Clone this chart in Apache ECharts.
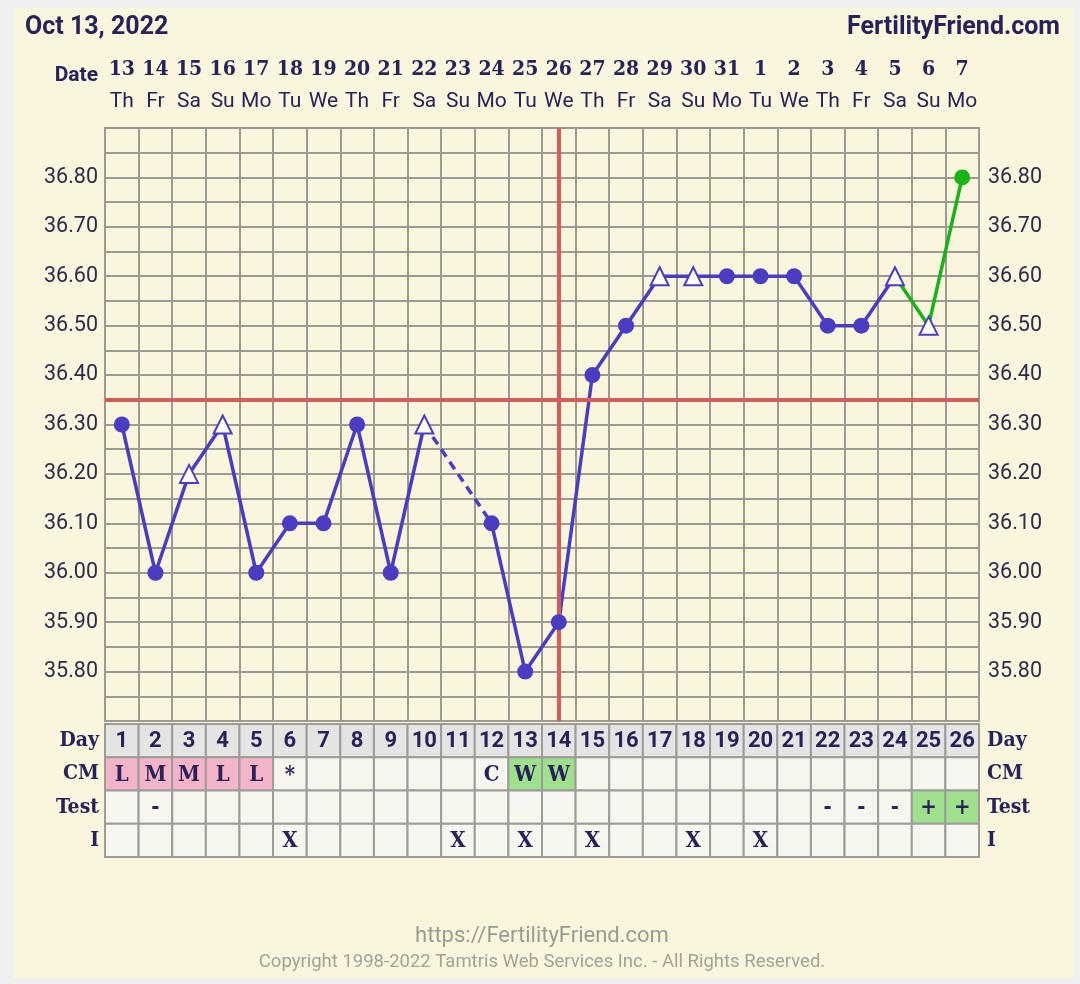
<!DOCTYPE html>
<html>
<head>
<meta charset="utf-8">
<script src="https://cdn.jsdelivr.net/npm/echarts@6/dist/echarts.min.js"></script>
<style>
html,body{margin:0;padding:0;background:#f0f0f0;}
#chart{width:1080px;height:984px;}
</style>
</head>
<body>
<div id="chart"></div>
<script>
// ---- data ----
const cycleDays = ['1','2','3','4','5','6','7','8','9','10','11','12','13','14','15','16','17','18','19','20','21','22','23','24','25','26'];
const dates = ['13','14','15','16','17','18','19','20','21','22','23','24','25','26','27','28','29','30','31','1','2','3','4','5','6','7'];
const weekdays = ['Th','Fr','Sa','Su','Mo','Tu','We','Th','Fr','Sa','Su','Mo','Tu','We','Th','Fr','Sa','Su','Mo','Tu','We','Th','Fr','Sa','Su','Mo'];
const temps = [36.30,36.00,36.20,36.30,36.00,36.10,36.10,36.30,36.00,36.30,null,36.10,35.80,35.90,36.40,36.50,36.60,36.60,36.60,36.60,36.60,36.50,36.50,36.60,36.50,36.80];
const markerKinds = ['dot','dot','open','open','dot','dot','dot','dot','dot','open',null,'dot','dot','dot','dot','dot','open','open','dot','dot','dot','dot','dot','open','open','dot'];
const lastMainDay = 24;       // purple line ends here, green continues
const coverline = 36.35;
const ovulationDay = '14';
const cmRow = ['L','M','M','L','L','*','','','','','','C','W','W','','','','','','','','','','','',''];
const testRow = ['','-','','','','','','','','','','','','','','','','','','','','-','-','-','+','+'];
const intercourseRow = ['','','','','','X','','','','','X','','X','','X','','','X','','X','','','','','',''];
const rowLabels = ['Day','CM','Test','I'];
const yTickLabels = ['35.80','35.90','36.00','36.10','36.20','36.30','36.40','36.50','36.60','36.70','36.80'];

// ---- styling ----
const PURPLE = '#4a3dc4', GREEN = '#17b317', RED = '#d65b5b', GRIDC = '#9c9a92', NAVY = '#28225a', CREAM = '#faf6dd';

const mainLine = temps.map((t, i) => (i < lastMainDay ? (t == null ? '-' : t) : '-'));
const greenLine = temps.map((t, i) => (i >= lastMainDay - 1 ? t : '-'));
const dashLine = temps.map(() => '-');
temps.forEach((t, i) => {
  if (t == null) {
    let a = i - 1, b = i + 1;
    while (a >= 0 && temps[a] == null) a--;
    while (b < temps.length && temps[b] == null) b++;
    if (a >= 0) dashLine[a] = temps[a];
    if (b < temps.length) dashLine[b] = temps[b];
  }
});
const markers = [];
temps.forEach((t, i) => {
  if (t == null) return;
  const isLast = i === temps.length - 1;
  if (markerKinds[i] === 'open') {
    markers.push({ value: [i, t], symbol: 'triangle', symbolSize: 18,
      itemStyle: { color: '#ffffff', borderColor: PURPLE, borderWidth: 2, opacity: 1 } });
  } else {
    markers.push({ value: [i, t], symbol: 'circle', symbolSize: 16,
      itemStyle: { color: isLast ? GREEN : PURPLE, borderWidth: 0, opacity: 1 } });
  }
});

// table cells
const cells = [], cellInfo = [];
const rows = [cycleDays, cmRow, testRow, intercourseRow];
rows.forEach((row, r) => {
  row.forEach((txt, c) => {
    let fill = r === 0 ? '#e4e4e2' : '#f7f6ee';
    if (r === 1 && (txt === 'L' || txt === 'M')) fill = '#f3b4c8';
    if (r === 1 && txt === 'W') fill = '#9fe08c';
    if (r === 2 && txt === '+') fill = '#9fe08c';
    cells.push([c, r]);
    cellInfo.push({ txt, fill, r });
  });
});

const chart = echarts.init(document.getElementById('chart'), null, { renderer: 'canvas' });
const serifB = '"DejaVu Serif Condensed", "DejaVu Serif", serif';

const yLabelFmt = v => {
  const s = Number(v).toFixed(2);
  return yTickLabels.indexOf(s) >= 0 ? s : '';
};

chart.setOption({
  backgroundColor: '#f0f0f0',
  animation: false,
  graphic: [
    { type: 'rect', z: -10, shape: { x: 13, y: 8, width: 1060, height: 970 }, style: { fill: CREAM } },
    { type: 'text', left: 25, top: 15, style: { text: 'Oct 13, 2022', font: 'bold 25px Roboto', fill: NAVY } },
    { type: 'text', right: 20, top: 15, style: { text: 'FertilityFriend.com', font: 'bold 25px Roboto', fill: NAVY } },
    { type: 'text', x: 98, y: 76, style: { text: 'Date', font: 'bold 21px Roboto', fill: NAVY, align: 'right', verticalAlign: 'middle' } },
    { type: 'text', x: 542, y: 936, style: { text: 'https://FertilityFriend.com', font: '22px Roboto', fill: '#9c9b92', align: 'center', verticalAlign: 'middle' } },
    { type: 'text', x: 542, y: 962, style: { text: 'Copyright 1998-2022 Tamtris Web Services Inc. - All Rights Reserved.', font: '18.5px Roboto', fill: '#a3a298', align: 'center', verticalAlign: 'middle' } }
  ],
  grid: [
    { left: 105, top: 128, width: 874, height: 593, show: true, backgroundColor: CREAM, borderColor: GRIDC, borderWidth: 2 },
    { left: 105, top: 724, width: 874, height: 133, show: false }
  ],
  xAxis: [
    { type: 'category', gridIndex: 0, data: cycleDays, boundaryGap: true,
      axisLine: { show: false }, axisTick: { show: false }, axisLabel: { show: false },
      splitLine: { show: true, lineStyle: { color: GRIDC, width: 2 } } },
    { type: 'category', gridIndex: 0, position: 'top', data: dates, boundaryGap: true,
      axisLine: { show: false }, axisTick: { show: false },
      axisLabel: { margin: 48, fontFamily: serifB, fontWeight: 'bold', fontSize: 21, color: NAVY, interval: 0 } },
    { type: 'category', gridIndex: 0, position: 'top', offset: 0, data: weekdays, boundaryGap: true,
      axisLine: { show: false }, axisTick: { show: false },
      axisLabel: { margin: 16, fontFamily: 'Roboto', fontSize: 21, color: NAVY, interval: 0 } },
    { type: 'category', gridIndex: 1, data: cycleDays, boundaryGap: true, show: false }
  ],
  yAxis: [
    { type: 'value', gridIndex: 0, min: 35.70, max: 36.90, interval: 0.05,
      axisLine: { show: false }, axisTick: { show: false },
      axisLabel: { formatter: yLabelFmt, fontFamily: 'Roboto', fontSize: 21.5, color: '#2e2b4d', margin: 7, showMinLabel: false, showMaxLabel: false },
      splitLine: { show: true, lineStyle: { color: GRIDC, width: 2 } } },
    { type: 'value', gridIndex: 0, position: 'right', min: 35.70, max: 36.90, interval: 0.05,
      axisLine: { show: false }, axisTick: { show: false },
      axisLabel: { formatter: yLabelFmt, fontFamily: 'Roboto', fontSize: 21.5, color: '#2e2b4d', margin: 9, showMinLabel: false, showMaxLabel: false },
      splitLine: { show: false } },
    { type: 'category', gridIndex: 1, data: rowLabels, inverse: true,
      axisLine: { show: false }, axisTick: { show: false },
      axisLabel: { fontFamily: serifB, fontWeight: 'bold', fontSize: 21, color: NAVY, margin: 6 } },
    { type: 'category', gridIndex: 1, position: 'right', data: rowLabels, inverse: true,
      axisLine: { show: false }, axisTick: { show: false },
      axisLabel: { fontFamily: serifB, fontWeight: 'bold', fontSize: 21, color: NAVY, margin: 8 } }
  ],
  series: [
    { type: 'line', xAxisIndex: 0, yAxisIndex: 0, data: mainLine, connectNulls: false, showSymbol: false,
      lineStyle: { color: PURPLE, width: 3.5 }, z: 3,
      markLine: { silent: true, symbol: 'none', label: { show: false },
        lineStyle: { color: RED, width: 4, type: 'solid' },
        data: [{ yAxis: coverline }, { xAxis: ovulationDay }] } },
    { type: 'line', xAxisIndex: 0, yAxisIndex: 0, data: dashLine, connectNulls: true, showSymbol: false,
      lineStyle: { color: PURPLE, width: 3.5, type: [9, 6] }, z: 3 },
    { type: 'line', xAxisIndex: 0, yAxisIndex: 0, data: greenLine, connectNulls: false, showSymbol: false,
      lineStyle: { color: GREEN, width: 3.5 }, z: 3 },
    { type: 'scatter', xAxisIndex: 0, yAxisIndex: 0, data: markers, z: 5, itemStyle: { opacity: 1 } },
    { type: 'custom', xAxisIndex: 3, yAxisIndex: 2, data: cells, z: 2,
      renderItem: function (params, api) {
        const info = cellInfo[params.dataIndex];
        const c = api.coord([api.value(0), api.value(1)]);
        const s = api.size([1, 1]);
        const font = info.r === 0 ? 'bold 22px Roboto' : 'bold 22px ' + serifB;
        return { type: 'group', children: [
          { type: 'rect', shape: { x: c[0] - s[0] / 2, y: c[1] - s[1] / 2, width: s[0], height: s[1] },
            style: { fill: info.fill, stroke: '#9c9c9a', lineWidth: 2 } },
          { type: 'text', style: { text: info.txt, x: c[0], y: c[1] + 1, align: 'center', verticalAlign: 'middle', font: font, fill: NAVY } }
        ] };
      } }
  ]
});
</script>
</body>
</html>
